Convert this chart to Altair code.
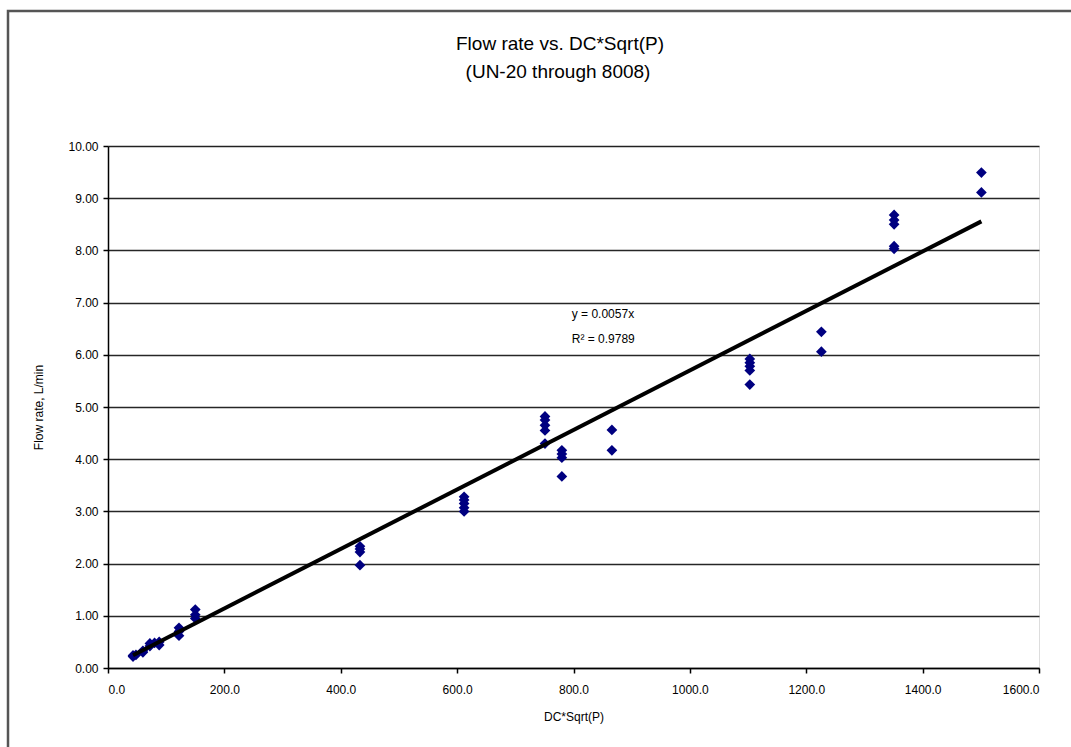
import altair as alt
import pandas as pd

# ---- data ----
dc_sqrt_p = [43, 43, 48, 60, 60, 72, 72, 80, 88, 88,
             122, 122, 122, 150, 150, 150,
             433, 433, 433, 433,
             612, 612, 612, 612, 612,
             751, 751, 751, 751, 751,
             780, 780, 780, 780,
             866, 866,
             1103, 1103, 1103, 1103, 1103,
             1226, 1226,
             1351, 1351, 1351, 1351, 1351,
             1501, 1501]
flow_rate = [0.22, 0.24, 0.25, 0.30, 0.33, 0.42, 0.47, 0.48, 0.44, 0.50,
             0.62, 0.70, 0.77, 0.95, 1.02, 1.12,
             1.97, 2.22, 2.28, 2.33,
             3.00, 3.07, 3.15, 3.22, 3.28,
             4.30, 4.55, 4.65, 4.75, 4.82,
             3.67, 4.03, 4.10, 4.17,
             4.17, 4.56,
             5.43, 5.70, 5.78, 5.85, 5.92,
             6.06, 6.44,
             8.03, 8.08, 8.50, 8.58, 8.68,
             9.11, 9.49]
slope = 0.0057
eq_text = ["y = 0.0057x", "R² = 0.9789"]
eq_x = [797, 797]
eq_y = [6.78, 6.31]
title_lines = ["Flow rate vs. DC*Sqrt(P)", "(UN-20 through 8008)"]
x_ticks = [0, 200, 400, 600, 800, 1000, 1200, 1400, 1600]
y_ticks = [0, 1, 2, 3, 4, 5, 6, 7, 8, 9, 10]

df = pd.DataFrame({"x": dc_sqrt_p, "y": flow_rate})
fit_df = pd.DataFrame({"x": [min(dc_sqrt_p), max(dc_sqrt_p)]})
eq_df = pd.DataFrame({"t": eq_text, "x": eq_x, "y": eq_y})

FONT = "Liberation Sans"

xscale = alt.Scale(domain=[0, 1600], nice=False, zero=False)
yscale = alt.Scale(domain=[0, 10], nice=False)

xaxis = alt.Axis(values=x_ticks, format=".1f", title="DC*Sqrt(P)", grid=False,
                 domainColor="black", domainWidth=1.5, tickColor="black",
                 tickSize=5, tickWidth=1.5, labelFont=FONT, labelFontSize=12,
                 labelColor="black", labelPadding=11, titleFont=FONT,
                 titleFontSize=12, titleFontWeight="normal", titleColor="black",
                 titlePadding=16)
yaxis = alt.Axis(values=y_ticks, format=".2f", title="Flow rate, L/min", grid=True,
                 gridColor="black", gridWidth=1.5, gridOpacity=0.85,
                 domainColor="black", domainWidth=1.5, tickColor="black",
                 tickSize=5, tickWidth=1.5, labelFont=FONT, labelFontSize=12,
                 labelColor="black", labelPadding=5, titleFont=FONT,
                 titleFontSize=12, titleFontWeight="normal", titleColor="black",
                 titlePadding=22)

points = alt.Chart(df).mark_point(shape="diamond", filled=True, color="#000080",
                                  size=115, opacity=1).encode(
    x=alt.X("x:Q", scale=xscale, axis=xaxis),
    y=alt.Y("y:Q", scale=yscale, axis=yaxis),
)

fit = alt.Chart(fit_df).transform_calculate(
    fy=f"{slope} * datum.x"
).mark_line(color="black", strokeWidth=4).encode(
    x=alt.X("x:Q", scale=xscale),
    y=alt.Y("fy:Q", scale=yscale),
)

eq = alt.Chart(eq_df).mark_text(align="left", baseline="middle", font=FONT,
                                fontSize=12, color="black").encode(
    x=alt.X("x:Q", scale=xscale),
    y=alt.Y("y:Q", scale=yscale),
    text="t:N",
)

title1 = alt.Chart(pd.DataFrame({"t": [title_lines[0]]})).mark_text(
    align="center", baseline="middle", font=FONT, fontSize=19, color="black"
).encode(x=alt.value(452), y=alt.value(-102), text="t:N")

title2 = alt.Chart(pd.DataFrame({"t": [title_lines[1]]})).mark_text(
    align="center", baseline="middle", font=FONT, fontSize=19, color="black"
).encode(x=alt.value(450), y=alt.value(-74), text="t:N")

border = alt.Chart(pd.DataFrame({"a": [0]})).mark_rect(
    filled=False, stroke="#555555", strokeWidth=2.5
).encode(
    x=alt.value(-100), x2=alt.value(1000),
    y=alt.value(-135), y2=alt.value(650),
)

chart = alt.layer(border, title1, title2, points, fit, eq).properties(
    width=931,
    height=522,
    autosize=alt.AutoSizeParams(type="none"),
    padding={"left": 108, "top": 146, "right": 32, "bottom": 79},
).configure_view(stroke="black", strokeWidth=1.5, fill="white").configure(
    background="white"
)

chart.save("out.html", embed_options={"renderer": "svg", "actions": False})
